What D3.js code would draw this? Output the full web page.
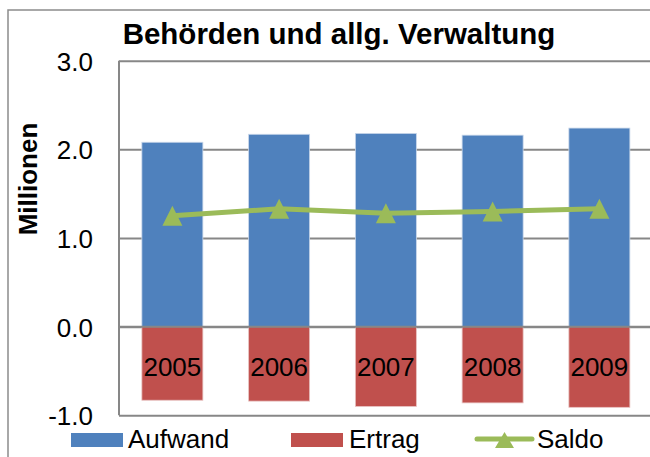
<!DOCTYPE html>
<html>
<head>
<meta charset="utf-8">
<script src="https://cdn.jsdelivr.net/npm/d3@7"></script>
<style>
  body { margin: 0; background: #fff; }
  text { font-family: "Liberation Sans", Arial, sans-serif; fill: #000; }
</style>
</head>
<body>
<div id="wrapper"></div>
<script>
// data (Millionen)
const years = ["2005", "2006", "2007", "2008", "2009"];
const aufwand = [2.08, 2.17, 2.18, 2.16, 2.24];
const ertrag = [-0.83, -0.84, -0.90, -0.86, -0.91];
const saldo = [1.25, 1.33, 1.28, 1.30, 1.33];
const yTicks = [-1, 0, 1, 2, 3];

let dimension = {
    width: 650,
    height: 457,
    plotLeft: 119,
    plotRight: 652.75,
    plotTop: 60.7,
    plotBottom: 415.3
}

const colors = { aufwand: "#4F81BD", ertrag: "#C0504D", saldo: "#9BBB59", grid: "#878787" };

function buildPlot() {
    const svg = d3.select("#wrapper").append("svg")
        .attr("width", dimension.width)
        .attr("height", dimension.height);

    svg.append("rect")
        .attr("width", dimension.width)
        .attr("height", dimension.height)
        .attr("fill", "#fff");

    // chart frame (cut off at the right and bottom)
    svg.append("rect")
        .attr("x", 8)
        .attr("y", 10)
        .attr("width", 720)
        .attr("height", 520)
        .attr("fill", "none")
        .attr("stroke", "#8c8c8c")
        .attr("stroke-width", 1.5);

    const xScale = d3.scaleBand()
        .domain(years)
        .range([dimension.plotLeft, dimension.plotRight])
        .paddingInner(0.4286)
        .paddingOuter(0.2143);

    const yScale = d3.scaleLinear()
        .domain([-1, 3])
        .range([dimension.plotBottom, dimension.plotTop]);

    // gridlines + tick labels
    const yAxisGenerator = d3.axisLeft(yScale)
        .tickValues(yTicks)
        .tickFormat(d => d.toFixed(1))
        .tickSize(-(dimension.width - dimension.plotLeft))
        .tickPadding(26);

    const yAxis = svg.append("g")
        .attr("transform", `translate(${dimension.plotLeft},0)`)
        .call(yAxisGenerator);
    yAxis.select(".domain").remove();
    yAxis.selectAll("line")
        .attr("stroke", colors.grid)
        .attr("stroke-width", 2);
    yAxis.selectAll("text")
        .attr("font-size", 26)
        .attr("font-family", "Liberation Sans, Arial, sans-serif")
        .attr("fill", "#000")
        .attr("dy", "0.36em");

    // vertical axis line
    svg.append("line")
        .attr("x1", dimension.plotLeft)
        .attr("x2", dimension.plotLeft)
        .attr("y1", dimension.plotTop)
        .attr("y2", dimension.plotBottom)
        .attr("stroke", colors.grid)
        .attr("stroke-width", 2);

    const bounds = svg.append("g");

    bounds.selectAll(".aufwand")
        .data(aufwand)
        .enter()
        .append("rect")
        .attr("class", "aufwand")
        .attr("x", (d, i) => xScale(years[i]))
        .attr("y", d => yScale(d))
        .attr("width", xScale.bandwidth())
        .attr("height", d => yScale(0) - yScale(d))
        .attr("fill", colors.aufwand)
        .attr("stroke", "#c9d7ea")
        .attr("stroke-width", 0.8);

    bounds.selectAll(".ertrag")
        .data(ertrag)
        .enter()
        .append("rect")
        .attr("class", "ertrag")
        .attr("x", (d, i) => xScale(years[i]))
        .attr("y", yScale(0))
        .attr("width", xScale.bandwidth())
        .attr("height", d => yScale(d) - yScale(0))
        .attr("fill", colors.ertrag)
        .attr("stroke", "#e8c3c2")
        .attr("stroke-width", 0.8);

    // zero line over the bars
    bounds.append("line")
        .attr("x1", dimension.plotLeft)
        .attr("x2", dimension.width)
        .attr("y1", yScale(0))
        .attr("y2", yScale(0))
        .attr("stroke", colors.grid)
        .attr("stroke-width", 2);

    // category labels inside the red bars
    bounds.selectAll(".year")
        .data(years)
        .enter()
        .append("text")
        .attr("class", "year")
        .attr("x", d => xScale(d) + xScale.bandwidth() / 2)
        .attr("y", 376)
        .attr("text-anchor", "middle")
        .attr("font-size", 26)
        .text(d => d);

    // saldo line
    const line = d3.line()
        .x((d, i) => xScale(years[i]) + xScale.bandwidth() / 2)
        .y(d => yScale(d));

    bounds.append("path")
        .datum(saldo)
        .attr("d", line)
        .attr("fill", "none")
        .attr("stroke", colors.saldo)
        .attr("stroke-width", 5);

    const tri = "M0,-10L10,10L-10,10Z";
    bounds.selectAll(".marker")
        .data(saldo)
        .enter()
        .append("path")
        .attr("class", "marker")
        .attr("d", tri)
        .attr("fill", colors.saldo)
        .attr("transform", (d, i) => `translate(${xScale(years[i]) + xScale.bandwidth() / 2},${yScale(d)})`);

    // title
    svg.append("text")
        .attr("x", 339)
        .attr("y", 44)
        .attr("text-anchor", "middle")
        .attr("font-size", 29.5)
        .attr("font-weight", "bold")
        .text("Behörden und allg. Verwaltung");

    svg.append("text")
        .attr("transform", "translate(37,179) rotate(-90)")
        .attr("text-anchor", "middle")
        .attr("font-size", 26)
        .attr("font-weight", "bold")
        .text("Millionen");

    // legend
    const legend = svg.append("g");
    legend.append("rect")
        .attr("x", 71).attr("y", 433)
        .attr("width", 52).attr("height", 14)
        .attr("fill", colors.aufwand);
    legend.append("text")
        .attr("x", 128).attr("y", 448)
        .attr("font-size", 26)
        .text("Aufwand");

    legend.append("rect")
        .attr("x", 291).attr("y", 433)
        .attr("width", 52).attr("height", 14)
        .attr("fill", colors.ertrag);
    legend.append("text")
        .attr("x", 349).attr("y", 448)
        .attr("font-size", 26)
        .text("Ertrag");

    legend.append("line")
        .attr("x1", 477).attr("x2", 532)
        .attr("y1", 439).attr("y2", 439)
        .attr("stroke", colors.saldo)
        .attr("stroke-width", 5)
        .attr("stroke-linecap", "round");
    legend.append("path")
        .attr("d", "M0,-8L9.5,8L-9.5,8Z")
        .attr("fill", colors.saldo)
        .attr("transform", "translate(504.5,440)");
    legend.append("text")
        .attr("x", 537).attr("y", 448)
        .attr("font-size", 26)
        .text("Saldo");
}

buildPlot()
</script>
</body>
</html>
